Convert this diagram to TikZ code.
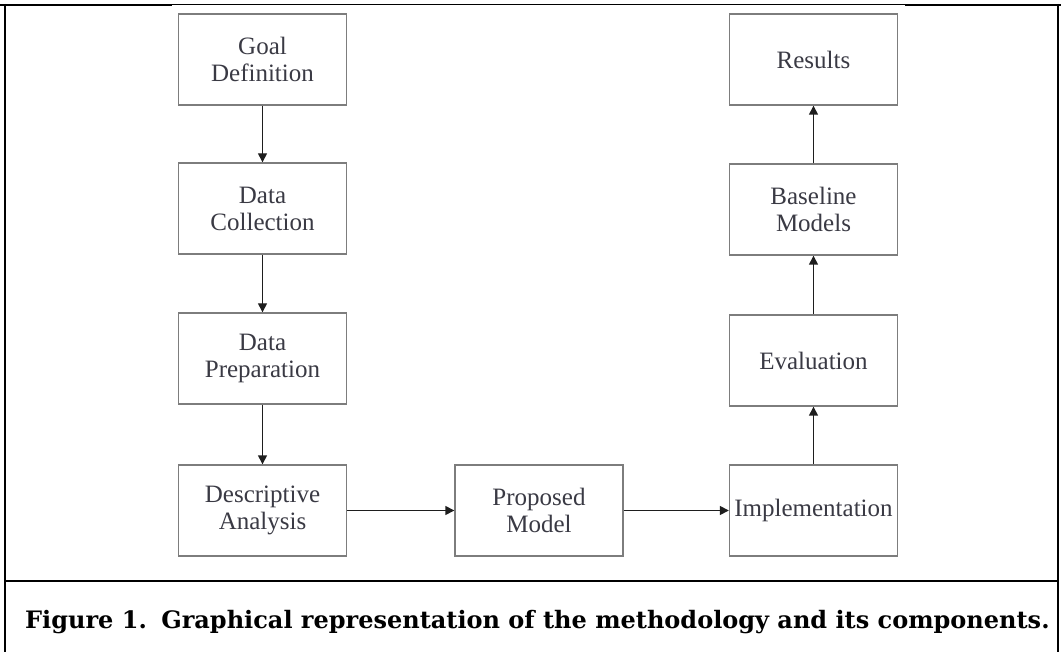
\documentclass[tikz,border=0pt]{standalone}
\usepackage{fontspec}
\setmainfont{Liberation Serif}
\newfontfamily\capfont{DejaVu Serif}
\usetikzlibrary{arrows.meta}
\definecolor{boxgray}{RGB}{125,125,125}
\definecolor{txtgray}{RGB}{58,58,68}
\definecolor{arrowc}{RGB}{30,30,30}
\begin{document}
\begin{tikzpicture}[x=1pt,y=-1pt,
  box/.style={draw=boxgray, line width=1.4pt, minimum width=168pt, minimum height=91pt,
    inner sep=0pt, align=center, font=\fontsize{25}{27}\selectfont, text=txtgray},
  flow/.style={draw=arrowc, line width=1.4pt, -{Triangle[length=9pt,width=9pt]}},
  thickrule/.style={line width=2.5pt, draw=black},
  thinrule/.style={line width=1pt, draw=black},
  captext/.style={anchor=base west, inner sep=0pt, font=\capfont\bfseries\fontsize{24}{28}\selectfont}]
\fill[white] (0,0) rectangle (1061,652);
\useasboundingbox (0,0) rectangle (1061,652);
% frame
\draw[thickrule] (0,5) -- (172,5);
\draw[thinrule] (172,5) -- (905,5);
\draw[thickrule] (905,5) -- (1061,5);
\draw[thickrule] (5,4) -- (5,652);
\draw[thickrule] (1058,4) -- (1058,652);
\draw[thickrule] (5,581) -- (1058,581);
% boxes
\node[box] (goal) at (262.5,59.5) {Goal\\Definition};
\node[box] (coll) at (262.5,208.5) {Data\\Collection};
\node[box] (prep) at (262.5,358.5) {Data\\Preparation};
\node[box] (desc) at (262.5,510.5) {Descriptive\\Analysis};
\node[box] (prop) at (539,510.5) {Proposed\\Model};
\node[box] (impl) at (813.5,510.5) {Implementation};
\node[box] (eval) at (813.5,360.5) {Evaluation};
\node[box] (base) at (813.5,209.5) {Baseline\\Models};
\node[box] (res) at (813.5,59.5) {Results};
% arrows
\draw[flow] (goal) -- (coll);
\draw[flow] (coll) -- (prep);
\draw[flow] (prep) -- (desc);
\draw[flow] (desc) -- (prop);
\draw[flow] (prop) -- (impl);
\draw[flow] (impl) -- (eval);
\draw[flow] (eval) -- (base);
\draw[flow] (base) -- (res);
% caption
\node[captext] (cap) at (25,628) {Figure 1.\hspace{0.6em}Graphical representation of the methodology and its components.};
\end{tikzpicture}
\end{document}
